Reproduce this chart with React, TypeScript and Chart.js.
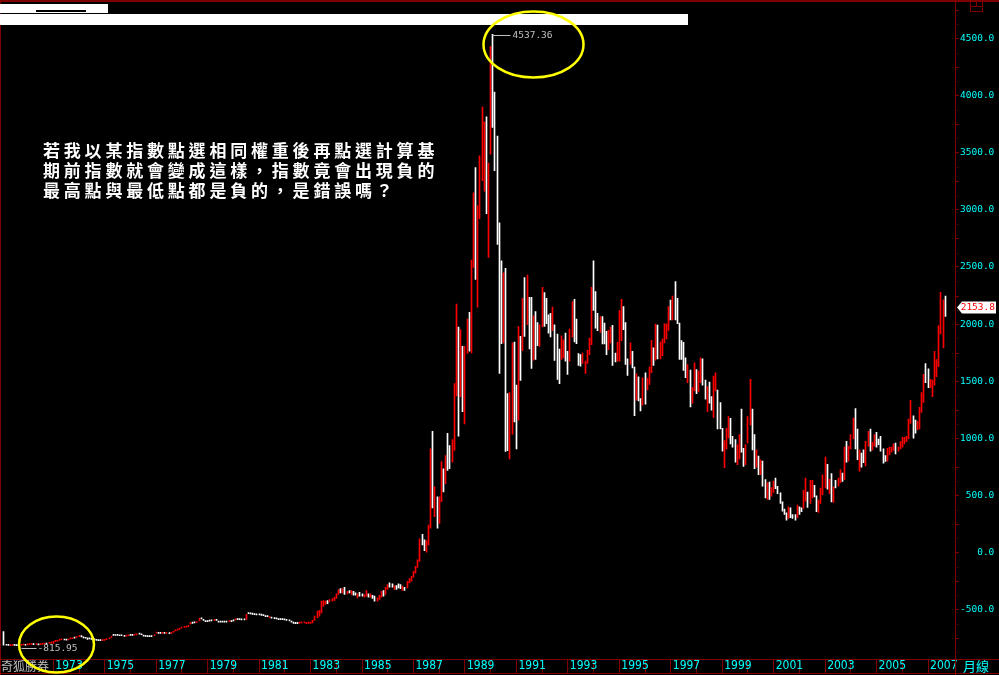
import React, { useEffect, useRef } from 'react';
import { Chart, registerables } from 'chart.js';

Chart.register(...registerables);

// month index 0 = Jan 1971; first bar = Feb 1971 (index 1), last bar = Sep 2007
const START_YEAR = 1971;
const FIRST_INDEX = 1;

const highs: number[] = [
  -693, -803, -805, -806, -804, -805, -806, -805, -804, -801, -803, // 1971
  -800, -797, -795, -798, -797, -800, -798, -795, -792, -793, -786, -785, // 1972
  -778, -770, -768, -761, -755, -757, -759, -757, -746, -746, -741, -734, // 1973
  -726, -728, -738, -742, -748, -747, -752, -756, -760, -763, -763, -762, // 1974
  -760, -754, -746, -734, -717, -718, -717, -720, -720, -725, -723, -720, // 1975
  -717, -717, -714, -711, -705, -711, -723, -725, -728, -728, -728, -720, // 1976
  -697, -699, -699, -699, -699, -699, -700, -698, -688, -676, -670, -664, // 1977
  -652, -647, -644, -638, -614, -610, -607, -604, -577, -572, -584, -595, // 1978
  -595, -592, -589, -584, -584, -601, -601, -601, -601, -601, -595, -595, // 1979
  -589, -581, -578, -578, -581, -581, -542, -526, -528, -531, -534, -537, // 1980
  -537, -540, -543, -552, -552, -560, -566, -569, -572, -578, -578, -578, // 1981
  -581, -584, -589, -601, -610, -612, -612, -610, -607, -607, -612, -610, // 1982
  -610, -594, -557, -513, -507, -426, -420, -425, -420, -412, -403, -391, // 1983
  -362, -324, -316, -316, -304, -339, -333, -333, -339, -354, -362, -348, // 1984
  -362, -368, -333, -362, -362, -374, -382, -397, -374, -339, -333, -304, // 1985
  -281, -266, -275, -290, -290, -275, -281, -295, -304, -252, -229, -209, // 1986
  -165, -122, -64, 119, 160, 110, 102, 241, 907, 1061, 574, 487, // 1987
  487, 797, 733, 849, 1044, 936, 988, 1478, 2174, 1974, 1951, 1806, // 1988
  1806, 2044, 2102, 2560, 3148, 3371, 3038, 3473, 3899, 3771, 3815, 3409, // 1989
  4429, 4537.36, 4032, 3646, 2887, 2553, 2449, 2487, 1391, 1400, 1835, 1843, // 1990
  1466, 1979, 1892, 2226, 2408, 2429, 2234, 2234, 2072, 2110, 2014, 1994, // 1991
  2321, 2275, 2226, 2081, 2095, 2148, 1994, 1913, 1782, 1898, 1863, 1921, // 1992
  1762, 1956, 2197, 2217, 2043, 1742, 1733, 1747, 1675, 1771, 1878, 2321, // 1993
  2553, 2284, 2095, 2066, 2066, 2008, 1936, 1945, 1974, 1988, 1747, 1840, // 1994
  2119, 2217, 2153, 2014, 1695, 1835, 1762, 1623, 1565, 1539, 1347, 1530, // 1995
  1574, 1524, 1623, 1858, 1791, 2000, 1991, 1843, 1869, 2003, 2003, 2153, // 1996
  2211, 2246, 2371, 2226, 2008, 1855, 1840, 1704, 1646, 1597, 1443, 1660, // 1997
  1602, 1588, 1704, 1696, 1510, 1452, 1493, 1365, 1545, 1574, 1423, 1313, // 1998
  1087, 980, 1087, 1191, 1174, 1017, 988, 942, 1032, 1255, 913, 945, // 1999
  1191, 1516, 1255, 1032, 899, 844, 812, 800, 638, 612, 617, 568, // 2000
  626, 652, 580, 522, 443, 380, 348, 400, 391, 333, 333, 415, // 2001
  400, 391, 545, 652, 530, 632, 632, 588, 496, 458, 565, 681, // 2002
  835, 771, 641, 690, 574, 632, 652, 725, 696, 922, 974, 930, // 2003
  1032, 1177, 1261, 1081, 899, 870, 899, 974, 1061, 1081, 965, 1032, // 2004
  1052, 994, 1017, 907, 849, 913, 922, 922, 951, 959, 922, 971, // 2005
  1009, 1009, 1017, 1168, 1333, 1197, 1160, 1148, 1270, 1400, 1560, 1655, // 2006
  1609, 1516, 1510, 1762, 1690, 1986, 2278, 2212, 2246, // 2007
];

const lows: number[] = [
  -812, -812, -813, -814, -812, -813, -814, -815.95, -813, -810, -812, // 1971
  -809, -806, -805, -808, -806, -810, -807, -804, -801, -802, -796, -794, // 1972
  -795, -780, -777, -770, -764, -766, -768, -766, -756, -755, -750, -744, // 1973
  -736, -738, -748, -751, -762, -756, -761, -765, -769, -772, -772, -771, // 1974
  -769, -764, -756, -744, -727, -727, -726, -729, -729, -734, -732, -729, // 1975
  -726, -726, -723, -721, -714, -720, -732, -734, -737, -737, -737, -729, // 1976
  -707, -709, -709, -709, -709, -709, -710, -708, -698, -686, -680, -674, // 1977
  -663, -657, -654, -649, -626, -620, -617, -614, -600, -582, -594, -605, // 1978
  -605, -602, -599, -594, -594, -611, -611, -611, -611, -611, -605, -605, // 1979
  -599, -591, -588, -588, -591, -591, -586, -536, -538, -541, -544, -547, // 1980
  -547, -550, -553, -562, -562, -570, -576, -579, -582, -588, -588, -588, // 1981
  -591, -594, -599, -611, -620, -622, -622, -620, -617, -617, -622, -620, // 1982
  -620, -617, -594, -571, -557, -528, -470, -455, -449, -432, -426, -420, // 1983
  -403, -368, -354, -354, -368, -362, -354, -368, -374, -374, -397, -382, // 1984
  -382, -391, -382, -391, -391, -403, -426, -426, -411, -391, -382, -368, // 1985
  -324, -304, -304, -324, -324, -310, -316, -333, -333, -310, -266, -252, // 1986
  -217, -180, -130, -78, 67, 15, 3, 67, 212, 391, 313, 212, // 1987
  255, 444, 531, 603, 719, 733, 791, 893, 1371, 1018, 1365, 1232, // 1988
  1125, 1742, 1763, 1748, 2496, 2392, 2148, 2922, 3255, 3163, 2966, 2583, // 1989
  3487, 3722, 3342, 2698, 1568, 1829, 1835, 884, 892, 820, 1037, 1144, // 1990
  907, 1159, 1507, 1768, 1892, 1994, 1782, 1611, 1684, 1690, 1811, 1805, // 1991
  1974, 1979, 2003, 1921, 1887, 1942, 1681, 1516, 1478, 1690, 1704, 1675, // 1992
  1559, 1675, 1887, 1843, 1829, 1637, 1631, 1655, 1568, 1655, 1733, 1820, // 1993
  2119, 1965, 1942, 1927, 1826, 1826, 1733, 1776, 1835, 1637, 1669, 1675, // 1994
  1675, 1855, 1950, 1646, 1550, 1646, 1617, 1197, 1333, 1327, 1240, 1289, // 1995
  1298, 1423, 1472, 1574, 1637, 1684, 1695, 1695, 1724, 1835, 1869, 1945, // 1996
  2037, 2037, 2037, 2003, 1690, 1690, 1594, 1530, 1487, 1275, 1307, 1414, // 1997
  1391, 1405, 1487, 1464, 1342, 1232, 1307, 1246, 1183, 1415, 1081, 1081, // 1998
  887, 742, 907, 1003, 951, 922, 791, 768, 820, 878, 754, 768, // 1999
  959, 1116, 899, 733, 748, 681, 681, 580, 478, 464, 464, 493, // 2000
  525, 559, 516, 429, 362, 333, 284, 299, 304, 299, 284, 304, // 2001
  333, 357, 386, 449, 394, 429, 478, 487, 357, 351, 429, 507, // 2002
  565, 554, 516, 443, 438, 565, 583, 612, 623, 638, 791, 800, // 2003
  907, 994, 907, 812, 713, 748, 786, 757, 930, 887, 899, 930, // 2004
  922, 945, 887, 783, 797, 800, 855, 878, 893, 864, 887, 907, // 2005
  922, 951, 971, 994, 1130, 1000, 1044, 1075, 1081, 1226, 1313, 1487, // 2006
  1444, 1444, 1365, 1464, 1539, 1626, 1913, 1791, 2067, // 2007
];

// 1 = rising month (red), 0 = falling month (white)
const ups: number[] = [
  0, 0, 0, 1, 1, 0, 0, 0, 1, 1, 0, // 1971
  1, 1, 1, 0, 1, 0, 1, 1, 1, 0, 1, 1, // 1972
  1, 1, 1, 1, 1, 0, 0, 1, 1, 1, 0, 1, // 1973
  1, 0, 0, 0, 0, 0, 0, 0, 0, 0, 0, 1, // 1974
  1, 1, 1, 1, 0, 0, 0, 0, 0, 0, 1, 1, // 1975
  0, 0, 1, 1, 0, 0, 0, 0, 0, 0, 0, 1, // 1976
  1, 0, 0, 1, 0, 1, 0, 1, 1, 1, 1, 1, // 1977
  1, 1, 1, 1, 1, 0, 0, 1, 1, 0, 0, 0, // 1978
  0, 0, 0, 1, 0, 0, 0, 0, 0, 0, 1, 0, // 1979
  0, 1, 0, 0, 0, 0, 1, 0, 0, 0, 0, 0, // 1980
  0, 0, 0, 0, 0, 1, 0, 0, 0, 0, 0, 0, // 1981
  0, 0, 0, 0, 0, 0, 0, 1, 1, 1, 1, 1, // 1982
  1, 1, 1, 1, 1, 1, 1, 1, 0, 1, 1, 1, // 1983
  1, 1, 0, 1, 0, 1, 0, 1, 0, 0, 1, 0, // 1984
  0, 1, 1, 0, 1, 0, 0, 1, 1, 1, 0, 1, // 1985
  1, 0, 0, 1, 0, 0, 0, 1, 0, 1, 1, 1, // 1986
  1, 1, 1, 1, 0, 0, 1, 1, 1, 0, 1, 0, // 1987
  1, 1, 0, 1, 0, 0, 1, 1, 1, 0, 1, 0, // 1988
  1, 1, 0, 1, 1, 0, 1, 1, 1, 1, 0, 1, // 1989
  1, 0, 0, 0, 0, 0, 1, 0, 0, 1, 1, 0, // 1990
  0, 1, 0, 1, 0, 1, 0, 0, 1, 0, 0, 1, // 1991
  1, 0, 0, 0, 0, 1, 0, 0, 0, 1, 1, 0, // 1992
  0, 1, 1, 0, 0, 0, 0, 1, 1, 1, 1, 1, // 1993
  0, 0, 0, 1, 0, 0, 0, 1, 1, 0, 0, 1, // 1994
  1, 1, 0, 0, 0, 1, 0, 0, 1, 0, 0, 1, // 1995
  0, 1, 1, 1, 0, 1, 0, 1, 1, 1, 1, 1, // 1996
  0, 1, 0, 0, 0, 0, 0, 0, 1, 0, 1, 1, // 1997
  0, 1, 1, 0, 0, 1, 0, 0, 1, 1, 0, 0, // 1998
  0, 1, 1, 1, 0, 0, 0, 1, 1, 0, 0, 1, // 1999
  1, 1, 0, 0, 1, 0, 1, 0, 0, 1, 0, 1, // 2000
  1, 0, 0, 0, 0, 0, 0, 1, 0, 0, 0, 1, // 2001
  0, 0, 1, 1, 0, 1, 1, 0, 0, 1, 1, 1, // 2002
  1, 0, 1, 0, 1, 0, 1, 1, 0, 1, 0, 1, // 2003
  1, 1, 0, 0, 1, 0, 0, 1, 1, 0, 1, 1, // 2004
  0, 0, 0, 0, 0, 1, 1, 1, 1, 0, 1, 1, // 2005
  1, 1, 1, 1, 1, 0, 0, 1, 1, 1, 1, 0, // 2006
  0, 1, 1, 1, 1, 1, 1, 1, 0, // 2007
];

const lastClose = 2153.8;
const yTickValues = [-500, 0, 500, 1000, 1500, 2000, 2500, 3000, 3500, 4000, 4500];
const axisYears = [
  1973, 1974, 1975, 1976, 1977, 1978, 1979, 1980, 1981, 1982, 1983, 1984,
  1985, 1986, 1987, 1988, 1989, 1990, 1991, 1992, 1993, 1994, 1995, 1996,
  1997, 1998, 1999, 2000, 2001, 2002, 2003, 2004, 2005, 2006, 2007,
];
const noteLines = [
  '若我以某指數點選相同權重後再點選計算基',
  '期前指數就會變成這樣，指數竟會出現負的',
  '最高點與最低點都是負的，是錯誤嗎？',
];
const softwareName = '奇狐勝券';
const periodName = '月線';

const UP = '#FF0000';
const DOWN = '#FFFFFF';
const AXIS = '#800000';
const CYAN = '#00FFFF';
const GREY = '#C0C0C0';
const YELLOW = '#FFFF00';
const MONO = '"DejaVu Sans Mono", "Liberation Mono", monospace';

// keep each monthly range bar on whole pixels, as the original terminal drew them
const crispBars = {
  id: 'crispBars',
  beforeDatasetsDraw(chart: any) {
    const meta = chart.getDatasetMeta(0);
    meta.data.forEach((el: any) => {
      el.x = Math.floor(el.x) + 0.5;
    });
  },
};

const decorPlugin = {
  id: 'decor',
  afterDraw(chart: any) {
    const ctx: CanvasRenderingContext2D = chart.ctx;
    const xs = chart.scales.x;
    const ys = chart.scales.y;
    const area = chart.chartArea;
    const W = chart.width;
    const H = chart.height;
    const right = Math.round(area.right);
    ctx.save();

    // frame lines
    ctx.fillStyle = AXIS;
    ctx.fillRect(0, 0, W, 2);
    ctx.fillRect(0, 0, 1, H);
    ctx.fillRect(right, 0, 1, H);
    ctx.fillRect(0, Math.round(area.bottom), W, 1);
    ctx.fillRect(0, H - 2, W, 1);

    // minor ticks on the value axis
    for (let v = -875; v <= 4750; v += 125) {
      if (v % 500 === 0) continue;
      const y = Math.round(ys.getPixelForValue(v));
      if (y < area.top || y > area.bottom) continue;
      if (v % 250 === 0) ctx.fillRect(right + 1, y, 3, 1);
      else ctx.fillRect(right + 2, y, 1, 1);
    }

    // small icon in the top right cell
    ctx.strokeStyle = AXIS;
    ctx.lineWidth = 1;
    ctx.strokeRect(970.5, 0.5, 12, 11);
    ctx.beginPath();
    ctx.moveTo(970.5, 6.5);
    ctx.lineTo(982.5, 6.5);
    ctx.moveTo(976.5, 0.5);
    ctx.lineTo(976.5, 6.5);
    ctx.stroke();

    // header (blanked out in the original)
    ctx.fillStyle = '#FFFFFF';
    ctx.fillRect(0, 4, 108, 9);
    ctx.fillRect(0, 14, 688, 11);
    ctx.fillStyle = '#000000';
    ctx.fillRect(36, 10, 50, 2);

    // peak marker
    let peakIdx = 0;
    let lowIdx = 0;
    highs.forEach((h, k) => { if (h > highs[peakIdx]) peakIdx = k; });
    lows.forEach((l, k) => { if (l < lows[lowIdx]) lowIdx = k; });
    const px = Math.floor(xs.getPixelForValue(FIRST_INDEX + peakIdx)) + 0.5;
    const py = Math.round(ys.getPixelForValue(highs[peakIdx])) + 1.5;
    ctx.strokeStyle = GREY;
    ctx.lineWidth = 1;
    ctx.beginPath();
    ctx.moveTo(px, py);
    ctx.lineTo(px + 18, py);
    ctx.stroke();
    ctx.fillStyle = GREY;
    ctx.font = `9.5px ${MONO}`;
    ctx.textBaseline = 'middle';
    ctx.textAlign = 'left';
    ctx.fillText(highs[peakIdx].toFixed(2), px + 20, py);

    // low marker
    const lx = Math.floor(xs.getPixelForValue(FIRST_INDEX + lowIdx)) + 0.5;
    const ly = Math.round(ys.getPixelForValue(lows[lowIdx])) + 2.5;
    ctx.beginPath();
    ctx.moveTo(lx + 3, ly);
    ctx.lineTo(lx + 18, ly);
    ctx.stroke();
    ctx.fillText(lows[lowIdx].toFixed(2), lx + 19, ly);

    // last value tag
    const ty = Math.round(ys.getPixelForValue(lastClose)) + 0.5;
    ctx.fillStyle = '#FFFFFF';
    ctx.beginPath();
    ctx.moveTo(right + 2, ty);
    ctx.lineTo(right + 7, ty - 6);
    ctx.lineTo(W - 3, ty - 6);
    ctx.lineTo(W - 3, ty + 6);
    ctx.lineTo(right + 7, ty + 6);
    ctx.closePath();
    ctx.fill();
    ctx.fillStyle = UP;
    ctx.textAlign = 'right';
    ctx.fillText(lastClose.toFixed(1), W - 4, ty + 0.5);
    ctx.textAlign = 'left';

    // bottom strip texts
    ctx.fillStyle = GREY;
    ctx.font = '12px "Noto Sans CJK TC", "Noto Sans CJK SC", sans-serif';
    ctx.fillText(softwareName, 1, 666.5);
    ctx.fillStyle = CYAN;
    ctx.font = '13px "Noto Sans CJK TC", "Noto Sans CJK SC", sans-serif';
    ctx.fillText(periodName, right + 8, 666.5);

    // yellow ellipses
    ctx.strokeStyle = YELLOW;
    ctx.lineWidth = 2.5;
    ctx.beginPath();
    ctx.ellipse(px + 41, py + 9, 50, 33, 0, 0, Math.PI * 2);
    ctx.stroke();
    ctx.beginPath();
    ctx.ellipse(lx + 38, ly - 4, 37.5, 28, 0, 0, Math.PI * 2);
    ctx.stroke();

    ctx.restore();
  },
};

export default function App() {
  const canvasRef = useRef<HTMLCanvasElement | null>(null);

  useEffect(() => {
    const canvas = canvasRef.current;
    if (!canvas) return;
    const data = highs.map((h, k) => ({ x: FIRST_INDEX + k, y: [lows[k], h] }));
    const colors = ups.map((u) => (u ? UP : DOWN));

    const chart = new Chart(canvas, {
      type: 'bar',
      data: {
        datasets: [
          {
            data: data as any,
            backgroundColor: colors,
            borderWidth: 0,
            barThickness: 1,
            minBarLength: 1,
          },
        ],
      },
      options: {
        animation: false,
        responsive: false,
        maintainAspectRatio: false,
        events: [],
        layout: { padding: { left: 1, top: 3, right: 0, bottom: 0 } },
        plugins: { legend: { display: false }, tooltip: { enabled: false } },
        scales: {
          x: {
            type: 'linear',
            position: 'bottom',
            min: -0.39,
            max: 444.57,
            offset: false,
            afterFit: (s: any) => { s.height = 16; },
            afterBuildTicks: (s: any) => {
              s.ticks = axisYears.map((y) => ({ value: (y - START_YEAR) * 12 }));
            },
            grid: {
              offset: false,
              drawOnChartArea: false,
              drawTicks: true,
              tickLength: 14,
              color: AXIS,
              lineWidth: 1,
            },
            border: { display: true, color: AXIS },
            ticks: {
              autoSkip: false,
              maxRotation: 0,
              minRotation: 0,
              align: 'start',
              padding: -14,
              labelOffset: 2,
              color: CYAN,
              font: { family: '"Liberation Sans Narrow", "DejaVu Sans Condensed", "Liberation Sans", sans-serif', size: 12 },
              callback: (v: any) => {
                const yr = START_YEAR + Math.round(Number(v) / 12);
                return yr % 2 === 1 ? String(yr) : '';
              },
            },
          },
          y: {
            type: 'linear',
            position: 'right',
            min: -932.4,
            max: 4778.7,
            afterFit: (s: any) => { s.width = 44; },
            afterBuildTicks: (s: any) => {
              s.ticks = yTickValues.map((v) => ({ value: v }));
            },
            grid: {
              drawOnChartArea: false,
              drawTicks: true,
              tickLength: 4,
              color: AXIS,
              lineWidth: 1,
            },
            border: { display: true, color: AXIS },
            ticks: {
              crossAlign: 'near',
              padding: 1,
              color: CYAN,
              font: { family: MONO, size: 9.5 },
              callback: (v: any) => Number(v).toFixed(1).padStart(6, ' '),
            },
          },
        },
      } as any,
      plugins: [crispBars, decorPlugin],
    });
    return () => chart.destroy();
  }, []);

  return (
    <div
      style={{
        position: 'fixed',
        left: 0,
        top: 0,
        width: 999,
        height: 675,
        background: '#000',
        overflow: 'hidden',
      }}
    >
      <canvas ref={canvasRef} width={999} height={675} style={{ display: 'block' }} />
      <div
        style={{
          position: 'absolute',
          left: 43,
          top: 140,
          color: '#FFFFFF',
          fontFamily: '"Noto Sans CJK TC", "Noto Sans CJK SC", sans-serif',
          fontWeight: 700,
          fontSize: 17,
          lineHeight: '20px',
          letterSpacing: '3.8px',
          whiteSpace: 'pre',
        }}
      >
        {noteLines.map((line) => (
          <div key={line}>{line}</div>
        ))}
      </div>
    </div>
  );
}
